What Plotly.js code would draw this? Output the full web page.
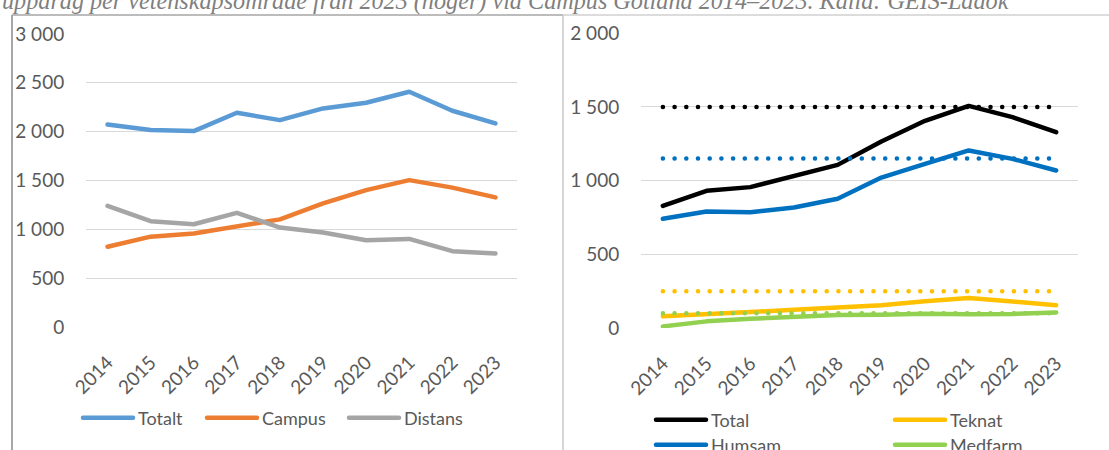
<!DOCTYPE html>
<html>
<head>
<meta charset="utf-8">
<script src="https://cdn.plot.ly/plotly-3.0.1.min.js"></script>
<style>
  html, body { margin: 0; padding: 0; background: #fff; overflow: hidden; width: 1109px; height: 450px; }
  #chart { width: 1109px; height: 450px; overflow: hidden; }
  .scatterlayer path.js-line, .legendlines path.js-line { stroke-linecap: round; stroke-linejoin: round; }
</style>
</head>
<body>
<div id="chart"></div>
<script>
// ---- Data ----
const years = ['2014', '2015', '2016', '2017', '2018', '2019', '2020', '2021', '2022', '2023'];

// Left chart
const leftNames = ['Totalt', 'Campus', 'Distans'];
const totalt  = [2074, 2016, 2006, 2194, 2118, 2238, 2296, 2409, 2214, 2084];
const campus  = [822, 925, 957, 1027, 1102, 1265, 1402, 1504, 1427, 1327];
const distans = [1240, 1083, 1052, 1169, 1018, 967, 888, 902, 776, 752];

// Right chart
const rightNames = ['Total', 'Teknat', 'Humsam', 'Medfarm'];
const total   = [829, 931, 956, 1033, 1107, 1266, 1406, 1507, 1431, 1329];
const teknat  = [79, 97, 108, 124, 136, 154, 181, 203, 180, 154];
const humsam  = [741, 791, 786, 818, 877, 1021, 1114, 1205, 1148, 1069];
const medfarm = [11, 45, 63, 79, 88, 90, 97, 93, 95, 106];

// Dotted reference levels (right chart)
const totalMal   = [1500, 1500, 1500, 1500, 1500, 1500, 1500, 1500, 1500, 1500];
const humsamMal  = [1150, 1150, 1150, 1150, 1150, 1150, 1150, 1150, 1150, 1150];
const teknatMal  = [250, 250, 250, 250, 250, 250, 250, 250, 250, 250];
const medfarmMal = [100, 100, 100, 100, 100, 100, 100, 100, 100, 100];

const caption = 'uppdrag per vetenskapsområde från 2023 (höger) via Campus Gotland 2014–2023. Källa: GEIS-Ladok';

// ---- Styling ----
const W = 1109, H = 450;
const FONT = 'Lato, "Open Sans", sans-serif';
const TXT = '#595959';
const LW = 4.5;
const DOT = '0.1px,11.6px';

function line(x, y, name, color, xa, ya, legend, dash, showlegend) {
  return {
    type: 'scatter', mode: 'lines', x: x, y: y, name: name,
    xaxis: xa, yaxis: ya, legend: legend,
    showlegend: showlegend !== false,
    line: { color: color, width: LW, dash: dash || 'solid' },
    hoverinfo: 'x+y+name'
  };
}

const traces = [
  line(years, totalt,  leftNames[0], '#5B9BD5', 'x', 'y', 'legend'),
  line(years, campus,  leftNames[1], '#ED7D31', 'x', 'y', 'legend4'),
  line(years, distans, leftNames[2], '#A5A5A5', 'x', 'y', 'legend5'),

  line(years, total,   rightNames[0], '#000000', 'x2', 'y2', 'legend2'),
  line(years, teknat,  rightNames[1], '#FFC000', 'x2', 'y2', 'legend2'),
  line(years, humsam,  rightNames[2], '#0070C0', 'x2', 'y2', 'legend3'),
  line(years, medfarm, rightNames[3], '#92D050', 'x2', 'y2', 'legend3'),

  line(years, totalMal,   'Total mål',   '#000000', 'x2', 'y2', 'legend2', DOT, false),
  line(years, humsamMal,  'Humsam mål',  '#0070C0', 'x2', 'y2', 'legend2', DOT, false),
  line(years, teknatMal,  'Teknat mål',  '#FFC000', 'x2', 'y2', 'legend2', DOT, false),
  line(years, medfarmMal, 'Medfarm mål', '#92D050', 'x2', 'y2', 'legend2', DOT, false)
];

const xBase = {
  type: 'category', range: [-0.5, 9.5], tickangle: -45,
  showgrid: false, zeroline: false, showline: false,
  ticks: 'outside', ticklen: 16, tickcolor: 'rgba(0,0,0,0)',
  tickfont: { family: FONT, size: 19, color: TXT }, fixedrange: true
};
const yBase = {
  dtick: 500, tick0: 0, showgrid: true, gridcolor: '#D9D9D9', gridwidth: 1.3,
  zeroline: false, showline: false, separatethousands: true,
  ticks: 'outside', ticklen: 17, tickcolor: 'rgba(0,0,0,0)',
  tickfont: { family: FONT, size: 19, color: TXT }, fixedrange: true
};

const legFont = { family: FONT, size: 18, color: TXT };
function leg(xpx, ypx, extra) {
  return Object.assign({
    orientation: 'h', x: xpx / W, xanchor: 'left', y: 1 - ypx / H, yanchor: 'middle', itemwidth: 50,
    font: legFont, bgcolor: 'rgba(0,0,0,0)', itemclick: false, itemdoubleclick: false
  }, extra || {});
}

const layout = {
  width: W, height: H,
  margin: { l: 0, r: 0, t: 0, b: 0, autoexpand: false },
  paper_bgcolor: '#ffffff', plot_bgcolor: '#ffffff',
  separators: ', ',
  showlegend: true,
  xaxis:  Object.assign({}, xBase, { domain: [86 / W, 517 / W], anchor: 'y' }),
  yaxis:  Object.assign({}, yBase, { domain: [1 - 327 / H, 1 - 34 / H], range: [0, 3000], anchor: 'x' }),
  xaxis2: Object.assign({}, xBase, { domain: [641 / W, 1078 / W], anchor: 'y2' }),
  yaxis2: Object.assign({}, yBase, { domain: [1 - 328 / H, 1 - 33.3 / H], range: [0, 2000], anchor: 'x2' }),
  legend:  leg(78, 418),
  legend4: leg(202, 418),
  legend5: leg(344, 418),
  legend2: leg(651, 420, { entrywidth: 174, entrywidthmode: 'pixels' }),
  legend3: leg(651, 445, { entrywidth: 174, entrywidthmode: 'pixels' }),
  shapes: [
    { type: 'line', xref: 'paper', yref: 'paper', x0: 12 / W, x1: 12 / W, y0: 0, y1: 1 - 15 / H,
      line: { color: '#A6A6A6', width: 2 } },
    { type: 'line', xref: 'paper', yref: 'paper', x0: 12 / W, x1: 563 / W, y0: 1 - 15 / H, y1: 1 - 15 / H,
      line: { color: '#A6A6A6', width: 1.5 } },
    { type: 'line', xref: 'paper', yref: 'paper', x0: 563 / W, x1: 563 / W, y0: 0, y1: 1 - 15 / H,
      line: { color: '#C8C8C8', width: 1.5 } },
    { type: 'line', xref: 'paper', yref: 'paper', x0: 563 / W, x1: 1, y0: 1 - 15 / H, y1: 1 - 15 / H,
      line: { color: '#D0D0D0', width: 1.5 } }
  ],
  annotations: [
    { text: '<i>' + caption + '</i>', xref: 'paper', yref: 'paper',
      x: 0, xanchor: 'left', y: 1 - 16.8 / H, yanchor: 'bottom', showarrow: false,
      font: { family: '"Liberation Serif", "DejaVu Serif", serif', size: 24.2, color: '#7F7F7F' } }
  ]
};

Plotly.newPlot('chart', traces, layout, { displayModeBar: false, responsive: false });
</script>
</body>
</html>
